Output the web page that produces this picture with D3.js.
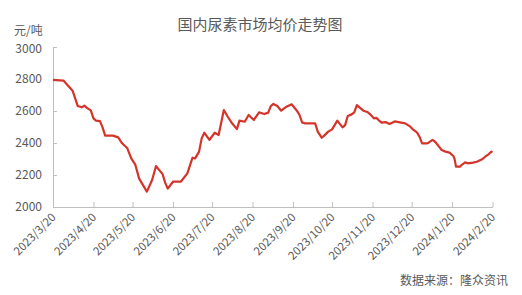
<!DOCTYPE html>
<html><head><meta charset="utf-8">
<script src="https://cdn.jsdelivr.net/npm/d3@7"></script>
<style>
html,body{margin:0;padding:0;background:#fff;}
svg{display:block;font-family:"Noto Sans CJK SC","Noto Sans",sans-serif;}
</style></head>
<body><svg id="c" width="522" height="295"></svg>
<script>
const title = "国内尿素市场均价走势图";
const unitLabel = "元/吨";
const sourceLabel = "数据来源：隆众资讯";
const yTicks = [2000, 2200, 2400, 2600, 2800, 3000];
const xTickLabels = ["2023/3/20","2023/4/20","2023/5/20","2023/6/20","2023/7/20","2023/8/20","2023/9/20","2023/10/20","2023/11/20","2023/12/20","2024/1/20","2024/2/20"];
const dates = ["2023/3/20","2023/3/28","2023/4/4","2023/4/8","2023/4/11","2023/4/13","2023/4/15","2023/4/18","2023/4/20","2023/4/22","2023/4/25","2023/4/27","2023/4/29","2023/5/5","2023/5/9","2023/5/12","2023/5/16","2023/5/19","2023/5/22","2023/5/25","2023/5/28","2023/5/31","2023/6/4","2023/6/7","2023/6/9","2023/6/12","2023/6/14","2023/6/16","2023/6/20","2023/6/26","2023/7/1","2023/7/5","2023/7/7","2023/7/10","2023/7/12","2023/7/14","2023/7/18","2023/7/22","2023/7/25","2023/7/29","2023/8/1","2023/8/4","2023/8/8","2023/8/10","2023/8/14","2023/8/17","2023/8/21","2023/8/25","2023/8/29","2023/9/1","2023/9/3","2023/9/5","2023/9/8","2023/9/11","2023/9/15","2023/9/19","2023/9/23","2023/9/25","2023/9/27","2023/9/29","2023/10/7","2023/10/9","2023/10/12","2023/10/14","2023/10/17","2023/10/20","2023/10/24","2023/10/28","2023/10/30","2023/11/1","2023/11/4","2023/11/6","2023/11/8","2023/11/10","2023/11/13","2023/11/16","2023/11/18","2023/11/21","2023/11/23","2023/11/25","2023/11/27","2023/11/30","2023/12/3","2023/12/7","2023/12/11","2023/12/15","2023/12/19","2023/12/21","2023/12/24","2023/12/26","2023/12/28","2024/1/1","2024/1/2","2024/1/5","2024/1/7","2024/1/10","2024/1/12","2024/1/15","2024/1/18","2024/1/21","2024/1/22","2024/1/23","2024/1/26","2024/1/28","2024/1/30","2024/2/1","2024/2/5","2024/2/8","2024/2/12","2024/2/15","2024/2/17","2024/2/19","2024/2/20"];
const prices = [2795,2790,2727,2631,2623,2633,2620,2604,2554,2540,2537,2498,2446,2446,2435,2398,2367,2304,2267,2179,2137,2096,2169,2256,2235,2206,2152,2115,2158,2158,2210,2308,2304,2346,2429,2464,2419,2464,2450,2606,2564,2527,2487,2540,2533,2575,2544,2592,2581,2590,2631,2644,2631,2602,2627,2642,2602,2575,2529,2523,2523,2471,2433,2446,2471,2485,2540,2498,2512,2569,2579,2592,2637,2623,2602,2594,2581,2554,2557,2540,2527,2531,2519,2535,2529,2523,2502,2485,2467,2440,2398,2398,2402,2419,2408,2377,2356,2346,2340,2319,2298,2252,2252,2267,2279,2273,2277,2283,2298,2319,2329,2346,2342];

const parse = d3.timeParse("%Y/%m/%d");
const series = dates.map((d,i)=>({date:parse(d), value:prices[i]}));
const tickDates = xTickLabels.map(parse);

const svg = d3.select("#c");
const textColor = "#595959";
const axisColor = "#bfbfbf";

const x = d3.scaleTime().domain([tickDates[0], tickDates[tickDates.length-1]]).range([53, 492.5]);
const y = d3.scaleLinear().domain([2000, 3000]).range([207, 47]);

// title
svg.append("text").attr("x", 260).attr("y", 30).attr("text-anchor","middle")
  .attr("font-size", 15).attr("fill", textColor).text(title);
// unit
svg.append("text").attr("x", 14).attr("y", 35).attr("font-size", 12)
  .attr("fill", textColor).text(unitLabel);

// y axis
const yAxis = d3.axisLeft(y).tickValues(yTicks).tickSizeInner(-4).tickSizeOuter(0).tickPadding(11).tickFormat(d3.format("d"));
const gy = svg.append("g").attr("transform","translate(53,0)").call(yAxis);
gy.select(".domain").attr("stroke", axisColor);
gy.selectAll(".tick line").attr("stroke", axisColor);
gy.selectAll(".tick text").attr("fill", textColor).attr("font-size", 12)
  .attr("font-family", "'Noto Sans CJK SC','Noto Sans',sans-serif")
  .attr("dy", (d)=> d === 3000 ? "0.45em" : "0.32em");

// x axis
const xAxis = d3.axisBottom(x).tickValues(tickDates).tickSizeInner(-5).tickSizeOuter(0).tickFormat((d,i)=>xTickLabels[i]);
const gx = svg.append("g").attr("transform","translate(0,207)").call(xAxis);
gx.select(".domain").attr("stroke", axisColor);
gx.selectAll(".tick line").attr("stroke", axisColor);
gx.selectAll(".tick text").attr("fill", textColor).attr("font-size", 11.5)
  .attr("font-family", "'Noto Sans CJK SC','Noto Sans',sans-serif")
  .attr("text-anchor","end").attr("dy", null).attr("y", 0)
  .attr("transform","translate(3,11) rotate(-45)");

// line
const line = d3.line().x(d=>x(d.date)).y(d=>y(d.value));
svg.append("path").datum(series).attr("d", line).attr("fill","none")
  .attr("stroke","#d5342a").attr("stroke-width",2.2).attr("stroke-linejoin","round");

// source
svg.append("text").attr("x", 508).attr("y", 285).attr("text-anchor","end")
  .attr("font-size", 12).attr("fill", textColor).text(sourceLabel);
</script></body></html>
